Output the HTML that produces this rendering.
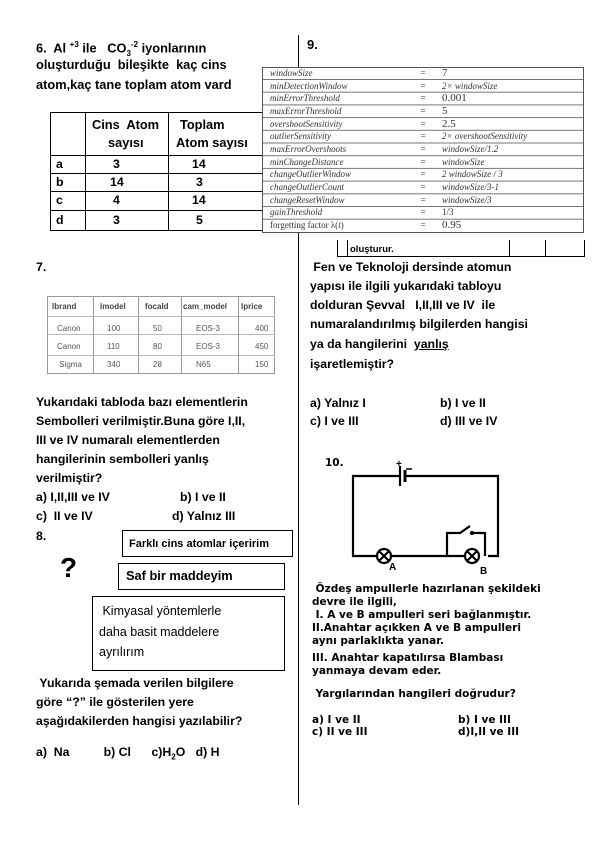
<!DOCTYPE html>
<html><head><meta charset="utf-8"><style>
*{margin:0;padding:0;box-sizing:border-box}
body{width:596px;height:842px;background:#fff;position:relative;overflow:hidden;font-family:"Liberation Sans",sans-serif;color:#000}
.t{position:absolute;white-space:nowrap;font-weight:bold;font-size:12.3px;line-height:14px}
.s{position:absolute;white-space:nowrap;font-family:"Liberation Serif",serif;font-style:italic;font-size:9px;color:#333;line-height:12px}
.b{position:absolute;border:1px solid #000}
.m{font-family:"DejaVu Sans",sans-serif;font-weight:bold;font-size:10.5px}
</style></head><body>
<div style="position:absolute;left:298px;top:35px;width:1px;height:770px;background:#000"></div>

<!-- Q6 -->
<div class="t" style="left:36px;top:38px;font-size:12.8px">6.&nbsp; Al <sup style="font-size:8px">+3</sup> ile &nbsp; CO<sub style="font-size:8px">3</sub><sup style="font-size:8px">-2</sup> iyonlarının</div>
<div class="t" style="left:36px;top:58px;font-size:12.8px">oluşturduğu&nbsp; bileşikte&nbsp; kaç cins</div>
<div class="t" style="left:36px;top:78px;font-size:12.8px">atom,kaç tane toplam atom vard</div>
<div style="position:absolute;left:50px;top:112px;width:240px;height:119px;border:1.5px solid #000"></div>
<div style="position:absolute;left:50px;top:155px;width:240px;border-top:1.5px solid #000"></div>
<div style="position:absolute;left:50px;top:173px;width:240px;border-top:1.5px solid #000"></div>
<div style="position:absolute;left:50px;top:191px;width:240px;border-top:1.5px solid #000"></div>
<div style="position:absolute;left:50px;top:210px;width:240px;border-top:1.5px solid #000"></div>
<div style="position:absolute;left:85px;top:112px;height:119px;border-left:1.5px solid #000"></div>
<div style="position:absolute;left:168px;top:112px;height:119px;border-left:1.5px solid #000"></div>
<div class="t" style="left:92px;top:118px;font-size:12.8px">Cins&nbsp; Atom</div>
<div class="t" style="left:108px;top:136px;font-size:12.8px">sayısı</div>
<div class="t" style="left:180px;top:118px;font-size:12.8px">Toplam</div>
<div class="t" style="left:176px;top:136px;font-size:12.8px">Atom sayısı</div>
<div class="t" style="left:56px;top:157px">a</div><div class="t" style="left:113px;top:157px">3</div><div class="t" style="left:192px;top:157px">14</div>
<div class="t" style="left:56px;top:175px">b</div><div class="t" style="left:110px;top:175px">14</div><div class="t" style="left:196px;top:175px">3</div>
<div class="t" style="left:56px;top:193px">c</div><div class="t" style="left:113px;top:193px">4</div><div class="t" style="left:192px;top:193px">14</div>
<div class="t" style="left:56px;top:213px">d</div><div class="t" style="left:113px;top:213px">3</div><div class="t" style="left:196px;top:213px">5</div>

<!-- Q9 overlay table -->
<div class="t" style="left:307px;top:38px;font-size:13px">9.</div>
<div style="position:absolute;left:262px;top:67px;width:322px;height:166px;background:#fff;border:1.5px solid #555"></div>
<div id="rows"></div>
<div class="s" style="left:270px;top:67px">windowSize</div><div class="s" style="left:420px;top:67px">=</div><div class="s" style="left:442px;top:67px;font-style:normal;font-size:11px">7</div>
<div class="s" style="left:270px;top:80px">minDetectionWindow</div><div class="s" style="left:420px;top:80px">=</div><div class="s" style="left:442px;top:80px">2× windowSize</div>
<div class="s" style="left:270px;top:92px">minErrorThreshold</div><div class="s" style="left:420px;top:92px">=</div><div class="s" style="left:442px;top:92px;font-style:normal;font-size:11px">0.001</div>
<div class="s" style="left:270px;top:105px">maxErrorThreshold</div><div class="s" style="left:420px;top:105px">=</div><div class="s" style="left:442px;top:105px;font-style:normal;font-size:11px">5</div>
<div class="s" style="left:270px;top:118px">overshootSensitivity</div><div class="s" style="left:420px;top:118px">=</div><div class="s" style="left:442px;top:118px;font-style:normal;font-size:11px">2.5</div>
<div class="s" style="left:270px;top:130px">outlierSensitivity</div><div class="s" style="left:420px;top:130px">=</div><div class="s" style="left:442px;top:130px">2× overshootSensitivity</div>
<div class="s" style="left:270px;top:143px">maxErrorOvershoots</div><div class="s" style="left:420px;top:143px">=</div><div class="s" style="left:442px;top:143px">windowSize/1.2</div>
<div class="s" style="left:270px;top:156px">minChangeDistance</div><div class="s" style="left:420px;top:156px">=</div><div class="s" style="left:442px;top:156px">windowSize</div>
<div class="s" style="left:270px;top:168px">changeOutlierWindow</div><div class="s" style="left:420px;top:168px">=</div><div class="s" style="left:442px;top:168px">2 windowSize / 3</div>
<div class="s" style="left:270px;top:181px">changeOutlierCount</div><div class="s" style="left:420px;top:181px">=</div><div class="s" style="left:442px;top:181px">windowSize/3-1</div>
<div class="s" style="left:270px;top:194px">changeResetWindow</div><div class="s" style="left:420px;top:194px">=</div><div class="s" style="left:442px;top:194px">windowSize/3</div>
<div class="s" style="left:270px;top:206px">gainThreshold</div><div class="s" style="left:420px;top:206px">=</div><div class="s" style="left:442px;top:206px;font-style:normal">1/3</div>
<div class="s" style="left:270px;top:219px;font-style:normal">forgetting factor λ(<i>t</i>)</div><div class="s" style="left:420px;top:219px">=</div><div class="s" style="left:442px;top:219px;font-style:normal;font-size:11px">0.95</div>
<div style="position:absolute;left:263px;top:79px;width:320px;height:1px;background:#777;box-shadow:0 12.7px #777,0 25.4px #777,0 38.1px #777,0 50.8px #777,0 63.5px #777,0 76.2px #777,0 88.9px #777,0 101.6px #777,0 114.3px #777,0 127px #777,0 139.7px #777"></div>

<!-- partial table below -->
<div style="position:absolute;left:337px;top:240px;height:16px;border-left:1px solid #000"></div>
<div style="position:absolute;left:347px;top:240px;height:16px;border-left:1px solid #000"></div>
<div style="position:absolute;left:509px;top:240px;height:16px;border-left:1px solid #000"></div>
<div style="position:absolute;left:545px;top:240px;height:16px;border-left:1px solid #000"></div>
<div style="position:absolute;left:584px;top:240px;height:16px;border-left:1px solid #000"></div>
<div style="position:absolute;left:337px;top:256px;width:248px;border-top:1px solid #000"></div>
<div class="t" style="left:350px;top:243px;font-size:9.5px">oluşturur.</div>

<div class="t" style="left:310px;top:260px">&nbsp;Fen ve Teknoloji dersinde atomun</div>
<div class="t" style="left:310px;top:279px">yapısı ile ilgili yukarıdaki tabloyu</div>
<div class="t" style="left:310px;top:298px">dolduran Şevval &nbsp; I,II,III ve IV&nbsp; ile</div>
<div class="t" style="left:310px;top:317px">numaralandırılmış bilgilerden hangisi</div>
<div class="t" style="left:310px;top:337px">ya da hangilerini&nbsp; <u>yanlış</u></div>
<div class="t" style="left:310px;top:357px">işaretlemiştir?</div>
<div class="t" style="left:310px;top:396px">a) Yalnız I</div><div class="t" style="left:440px;top:396px">b) I ve II</div>
<div class="t" style="left:310px;top:414px">c) I ve III</div><div class="t" style="left:440px;top:414px">d) III ve IV</div>

<!-- Q7 -->
<div class="t" style="left:36px;top:260px">7.</div>
<div style="position:absolute;left:47px;top:296px;width:228px;height:78px;border:1px solid #999"></div>
<div style="position:absolute;left:47px;top:316px;width:228px;border-top:1px solid #bbb;box-shadow:0 18px 0 #bbb"></div>
<div style="position:absolute;left:47px;top:355px;width:228px;border-top:1px solid #bbb"></div>
<div style="position:absolute;left:93px;top:296px;height:78px;border-left:1px solid #999"></div>
<div style="position:absolute;left:138px;top:296px;height:78px;border-left:1px solid #999"></div>
<div style="position:absolute;left:181px;top:296px;height:78px;border-left:1px solid #999"></div>
<div style="position:absolute;left:238px;top:296px;height:78px;border-left:1px solid #999"></div>
<div style="position:absolute;font-size:8px;color:#444;font-weight:bold;left:52px;top:302px">lbrand</div>
<div style="position:absolute;font-size:8px;color:#444;font-weight:bold;left:100px;top:302px">lmodel</div>
<div style="position:absolute;font-size:8px;color:#444;font-weight:bold;left:145px;top:302px">focald</div>
<div style="position:absolute;font-size:8px;color:#444;font-weight:bold;left:183px;top:302px">cam_model</div>
<div style="position:absolute;font-size:8px;color:#444;font-weight:bold;left:241px;top:302px">lprice</div>
<div style="position:absolute;font-size:8px;color:#555;left:57px;top:320px;line-height:18px">Canon<br>Canon<br>&nbsp;Sigma</div>
<div style="position:absolute;font-size:8px;color:#555;left:107px;top:320px;line-height:18px">100<br>110<br>340</div>
<div style="position:absolute;font-size:8px;color:#555;left:153px;top:320px;line-height:18px">50<br>80<br>28</div>
<div style="position:absolute;font-size:8px;color:#555;left:196px;top:320px;line-height:18px">EOS-3<br>EOS-3<br>N65</div>
<div style="position:absolute;font-size:8px;color:#555;left:255px;top:320px;line-height:18px">400<br>450<br>150</div>

<div class="t" style="left:36px;top:395px">Yukarıdaki tabloda bazı elementlerin</div>
<div class="t" style="left:36px;top:414px">Sembolleri verilmiştir.Buna göre I,II,</div>
<div class="t" style="left:36px;top:433px">III ve IV numaralı elementlerden</div>
<div class="t" style="left:36px;top:452px">hangilerinin sembolleri yanlış</div>
<div class="t" style="left:36px;top:471px">verilmiştir?</div>
<div class="t" style="left:36px;top:490px">a) I,II,III ve IV</div><div class="t" style="left:180px;top:490px">b) I ve II</div>
<div class="t" style="left:36px;top:509px">c)&nbsp; II ve IV</div><div class="t" style="left:172px;top:509px">d) Yalnız III</div>

<!-- Q8 -->
<div class="t" style="left:36px;top:529px">8.</div>
<div class="b" style="left:122px;top:530px;width:171px;height:27px"></div>
<div class="t" style="left:129px;top:537px;font-size:11px">Farklı cins atomlar içeririm</div>
<div class="t" style="left:60px;top:552px;font-size:28px;line-height:32px">?</div>
<div class="b" style="left:118px;top:563px;width:167px;height:27px"></div>
<div class="t" style="left:126px;top:569px;font-size:12.8px">Saf bir maddeyim</div>
<div class="b" style="left:92px;top:596px;width:193px;height:75px"></div>
<div class="t" style="left:99px;top:601px;font-weight:normal;font-size:12.5px;line-height:20.5px">&nbsp;Kimyasal yöntemlerle<br>daha basit maddelere<br>ayrılırım</div>
<div class="t" style="left:36px;top:676px">&nbsp;Yukarıda şemada verilen bilgilere</div>
<div class="t" style="left:36px;top:695px">göre “?” ile gösterilen yere</div>
<div class="t" style="left:36px;top:714px">aşağıdakilerden hangisi yazılabilir?</div>
<div class="t" style="left:36px;top:745px">a)&nbsp; Na &nbsp; &nbsp; &nbsp; &nbsp; &nbsp;b) Cl &nbsp; &nbsp; &nbsp;c)H<sub style="font-size:8px">2</sub>O &nbsp; d) H</div>

<!-- Q10 -->
<div class="t m" style="left:325px;top:456px">10.</div>
<svg style="position:absolute;left:340px;top:455px" width="180" height="125" viewBox="340 455 180 125">
<g stroke="#000" stroke-width="2.2" fill="none">
<path d="M399 476 H353 V556 H377"/>
<path d="M405 476 H498 V556 H488"/>
<path d="M392 556 H465"/>
<path d="M447 556 V533 H460 L470 526"/>
<path d="M472 533 H485 V556"/>
<line x1="400" y1="466" x2="400" y2="486"/>
<line x1="405" y1="470" x2="405" y2="482" stroke-width="3"/>
<circle cx="384" cy="556" r="7"/><path d="M379 551 l10 10 M389 551 l-10 10"/>
<circle cx="472" cy="556" r="7"/><path d="M467 551 l10 10 M477 551 l-10 10"/>
</g>
<circle cx="472" cy="533" r="2" fill="#000"/>
<text x="396" y="467" font-family="Liberation Sans" font-weight="bold" font-size="10">+</text>
<line x1="406" y1="469" x2="412" y2="469" stroke="#000" stroke-width="1.5"/>
<text x="389" y="570" font-family="Liberation Sans" font-weight="bold" font-size="10">A</text>
<text x="480" y="574" font-family="Liberation Sans" font-weight="bold" font-size="10">B</text>
</svg>
<div class="t m" style="left:312px;top:583px;line-height:13px">&nbsp;Özdeş ampullerle hazırlanan şekildeki<br>devre ile ilgili,<br>&nbsp;I. A ve B ampulleri seri bağlanmıştır.<br>II.Anahtar açıkken A ve B ampulleri<br>aynı parlaklıkta yanar.</div>
<div class="t m" style="left:312px;top:652px;line-height:13px">III. Anahtar kapatılırsa Blambası<br>yanmaya devam eder.</div>
<div class="t m" style="left:312px;top:687px">&nbsp;Yargılarından hangileri doğrudur?</div>
<div class="t m" style="left:312px;top:714px;line-height:12px">a) I ve II<br>c) II ve III</div>
<div class="t m" style="left:458px;top:714px;line-height:12px">b) I ve III<br>d)I,II ve III</div>
</body></html>
